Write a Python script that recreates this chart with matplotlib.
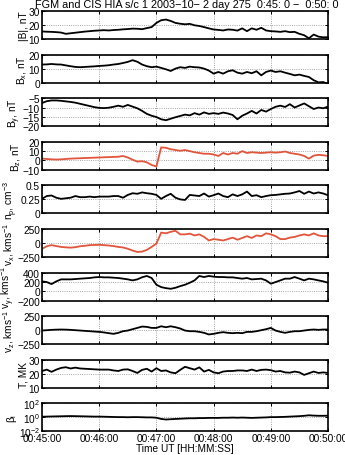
#Cluster s/c 1 FGM + CIS HIA overview, 2003-10-02 00:45-00:50
import matplotlib
matplotlib.use('Agg')
import matplotlib.pyplot as plt
import numpy as np

plt.rcParams['font.family'] = ['Liberation Sans', 'DejaVu Sans']
plt.rcParams['font.size'] = 7.3
plt.rcParams['axes.linewidth'] = 1.2
plt.rcParams['mathtext.fontset'] = 'custom'
plt.rcParams['mathtext.rm'] = 'Liberation Sans'
plt.rcParams['mathtext.it'] = 'Liberation Sans'

#Time in seconds after 00:45:00, 5 s steps
t = np.arange(0, 301, 5)

b_tot = [15.4, 15.2, 15.1, 14.9, 14.6, 13.7, 14.1, 14.5, 14.9, 15.3, 15.6, 15.9, 16.1, 16.3, 16.1, 16.4,
         16.6, 16.9, 17.1, 17.4, 17.3, 17.0, 17.8, 18.5, 21.5, 23.4, 23.9, 22.9, 21.5, 20.9, 20.5, 20.8,
         19.8, 19.3, 18.5, 17.6, 16.8, 16.5, 16.1, 16.8, 16.6, 16.0, 17.6, 15.6, 17.6, 16.6, 18.0, 16.1,
         15.6, 15.4, 15.1, 15.6, 14.9, 15.1, 13.7, 12.7, 10.5, 13.2, 11.7, 11.2, 11.3]
bx = [12.9, 13.0, 13.3, 13.0, 12.9, 12.3, 11.7, 11.2, 11.0, 11.2, 11.4, 11.6, 11.9, 12.1, 12.4, 12.9,
      13.3, 14.0, 14.8, 16.0, 14.9, 12.9, 11.7, 11.0, 11.4, 10.5, 9.5, 8.3, 10.0, 11.0, 10.5, 11.4,
      11.0, 10.8, 10.0, 8.6, 6.4, 7.6, 6.4, 8.1, 8.8, 7.1, 6.4, 7.6, 6.7, 8.1, 5.2, 7.6,
      8.6, 7.6, 8.1, 7.1, 6.2, 5.2, 5.7, 4.8, 4.0, 1.7, 0.2, 0.4, -1.0]
by = [-7.6, -6.6, -6.2, -6.2, -6.4, -6.7, -7.0, -7.4, -8.0, -8.6, -9.2, -9.8, -10.2, -10.3, -10.1, -9.6,
      -9.0, -9.6, -8.6, -9.5, -10.4, -11.8, -13.4, -14.4, -15.1, -16.3, -16.8, -16.0, -15.2, -14.5, -13.8, -14.2,
      -13.0, -13.8, -12.6, -13.4, -13.0, -13.4, -12.7, -13.2, -14.0, -16.3, -14.4, -13.2, -11.8, -13.2, -11.3, -12.2,
      -10.8, -9.6, -9.0, -9.7, -8.2, -10.0, -8.9, -7.8, -9.3, -10.8, -10.0, -10.4, -9.5]
bz = [2.0, 1.6, 1.2, 1.0, 1.2, 1.6, 2.0, 2.2, 2.4, 2.6, 2.8, 3.0, 3.2, 3.4, 3.6, 3.8,
      4.0, 4.8, 3.2, 0.8, -1.2, -0.8, -2.0, -4.8, -6.5, 14.0, 13.6, 12.0, 11.2, 10.4, 11.2, 10.0,
      8.8, 8.0, 7.2, 7.2, 6.4, 4.8, 8.0, 6.4, 8.0, 7.2, 10.0, 8.0, 8.8, 8.4, 8.0, 8.4,
      8.8, 8.4, 8.8, 9.6, 8.0, 7.2, 6.4, 4.8, 2.0, 5.2, 6.0, 5.6, 4.8]
n_p = [0.26, 0.31, 0.32, 0.28, 0.26, 0.27, 0.28, 0.31, 0.29, 0.29, 0.30, 0.29, 0.30, 0.30, 0.30, 0.31,
       0.31, 0.28, 0.33, 0.36, 0.35, 0.375, 0.36, 0.35, 0.33, 0.26, 0.31, 0.35, 0.28, 0.25, 0.24, 0.33,
       0.32, 0.31, 0.355, 0.30, 0.325, 0.355, 0.31, 0.29, 0.34, 0.31, 0.34, 0.39, 0.31, 0.325, 0.29, 0.31,
       0.325, 0.33, 0.34, 0.35, 0.355, 0.375, 0.40, 0.35, 0.39, 0.355, 0.375, 0.355, 0.325]
vx = [-103, -58, -38, -55, -70, -78, -83, -75, -58, -50, -38, -35, -32, -38, -45, -55,
      -70, -80, -103, -135, -160, -154, -122, -70, -10, 186, 173, 200, 218, 154, 154, 167,
      135, 154, 109, 45, 70, 58, 45, 70, 96, 58, 90, 122, 90, 135, 122, 173,
      154, 122, 70, 70, 96, 109, 135, 154, 135, 173, 135, 122, 122]
vy = [212, 197, 154, 212, 255, 255, 255, 262, 270, 277, 284, 298, 305, 298, 298, 291,
      284, 270, 255, 233, 255, 300, 328, 284, 140, 89, 67, 53, 75, 110, 140, 183,
      233, 328, 305, 328, 313, 305, 305, 298, 298, 284, 270, 284, 255, 262, 270, 233,
      162, 197, 233, 270, 270, 305, 270, 233, 270, 255, 233, 212, 183]
vz = [-6, 0, 6, 10, 12, 10, 6, 0, -6, -12, -18, -24, -30, -40, -53, -65,
      -47, -18, -6, 18, 41, 65, 59, 41, 41, 70, 53, 70, 53, 30, -6, -18,
      -18, -30, -47, -76, -65, -47, -35, -47, -53, -47, -53, -30, -30, -18, 0, 18,
      41, -6, -30, -47, -30, -18, -18, -6, 6, 12, 6, 12, 12]
temp = [22.0, 23.0, 21.4, 23.0, 24.2, 24.7, 23.8, 24.4, 23.8, 23.6, 23.4, 23.2, 23.0, 23.0, 23.0, 22.4,
        22.0, 23.0, 23.2, 22.0, 20.6, 22.8, 23.6, 21.6, 24.0, 22.0, 22.4, 21.0, 20.4, 22.8, 25.0, 24.0,
        23.0, 24.6, 21.6, 22.8, 21.0, 20.4, 21.6, 22.0, 22.0, 22.4, 22.4, 22.0, 23.0, 22.0, 22.8, 23.0,
        22.6, 21.6, 22.0, 21.0, 20.8, 21.6, 21.0, 19.2, 20.4, 21.6, 20.6, 21.0, 20.6]
beta = [1.25, 1.3, 1.35, 1.4, 1.45, 1.5, 1.55, 1.5, 1.45, 1.4, 1.35, 1.3, 1.3, 1.25, 1.2, 1.15,
        1.1, 1.1, 1.05, 1.1, 1.1, 1.05, 1.0, 1.0, 0.9, 0.6, 0.5, 0.55, 0.6, 0.65, 0.7, 0.75,
        0.75, 0.8, 0.8, 0.85, 0.85, 0.85, 0.9, 0.9, 0.95, 0.9, 0.95, 0.9, 0.85, 0.9, 0.95, 1.0,
        1.1, 1.1, 1.15, 1.2, 1.3, 1.4, 1.5, 1.7, 2.0, 1.8, 1.7, 1.7, 1.75]

xtick_pos = [0, 60, 120, 180, 240, 300]
xtick_labels = ['00:45:00', '00:46:00', '00:47:00', '00:48:00', '00:49:00', '00:50:00']

ylabels = ['|B|, nT', r'B$_x$, nT', r'B$_y$, nT', r'B$_z$, nT', r'n$_p$, cm$^{-3}$',
           r'v$_x$, kms$^{-1}$', r'v$_y$, kms$^{-1}$', r'v$_z$, kms$^{-1}$', 'T, MK', '\u03b2$_i$']
yticks = [[10, 20, 30], [0, 10, 20], [-20, -15, -10, -5], [-10, 0, 10, 20], [0, 0.25, 0.5],
          [-250, 0, 250], [-200, 0, 200, 400], [-250, 0, 250], [10, 20, 30], [1e-2, 1e0, 1e2]]
ylims = [(10, 30), (0, 20), (-20, -5), (-10, 20), (0, 0.5),
         (-250, 250), (-200, 400), (-250, 250), (10, 30), (1e-2, 1e2)]
series = [b_tot, bx, by, bz, n_p, vx, vy, vz, temp, beta]
colors = ['k', 'k', 'k', '#e0553b', 'k', '#e0553b', 'k', 'k', 'k', 'k']

W, H = 345, 456
fig = plt.figure(figsize=(W / 100, H / 100), dpi=100)

for i in range(10):
    top = 12 + 43.6 * i
    ax = fig.add_axes([42 / W, 1 - (top + 28) / H, 286 / W, 28 / H])
    ax.plot(t, series[i], color=colors[i], lw=1.3)
    if i == 9:
        ax.set_yscale('log')
        ax.minorticks_off()
    ax.set_xlim(0, 300)
    ax.set_ylim(*ylims[i])
    ax.set_yticks(yticks[i])
    if i == 4:
        ax.set_yticklabels(['0', '0.25', '0.5'])
    ax.set_xticks(xtick_pos)
    if i == 9:
        ax.set_xticklabels(xtick_labels)
        ax.set_xlabel('Time UT [HH:MM:SS]', labelpad=0)
    else:
        ax.set_xticklabels([])
    ax.tick_params(direction='in', length=2.5, width=0.7, top=True, right=True, pad=1.5)
    ax.grid(True, linestyle=':', color='#888888', lw=0.6)
    ax.set_ylabel(ylabels[i], labelpad=0)

fig.text(187 / W, 1 - 8 / H, 'FGM and CIS HIA s/c 1 2003\u221210\u2212 2 day 275  0:45: 0 \u2212  0:50: 0',
         ha='center', va='baseline', fontsize=7.8)

fig.savefig('out.png', dpi=100)
